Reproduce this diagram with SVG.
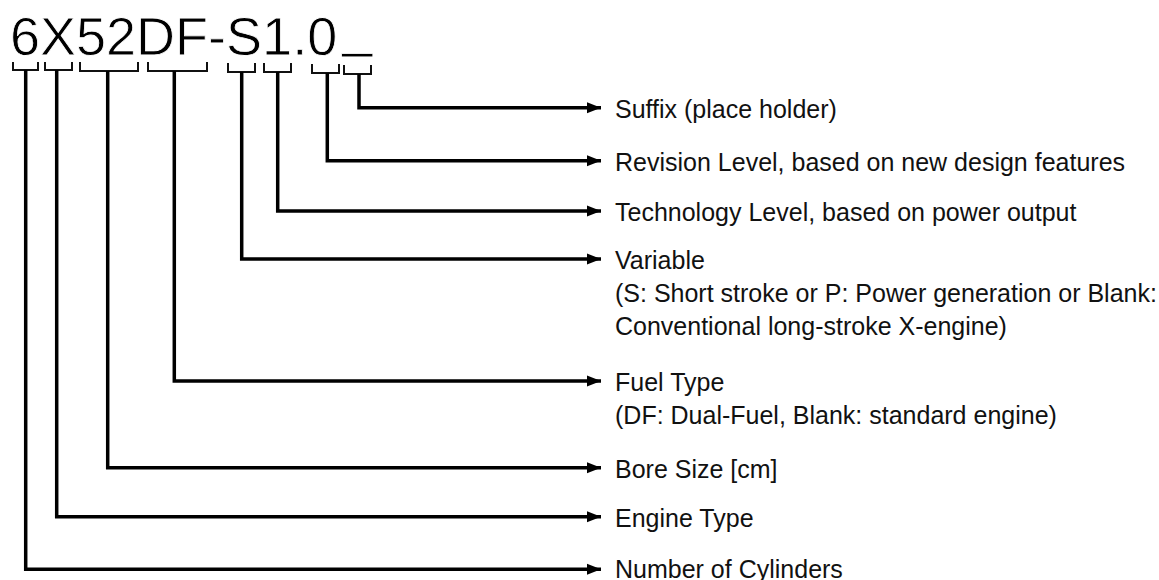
<svg xmlns="http://www.w3.org/2000/svg" width="1159" height="580" viewBox="0 0 1159 580">
<defs>
<marker id="ah" markerUnits="userSpaceOnUse" markerWidth="16" markerHeight="12" refX="14" refY="6" orient="auto">
<path d="M0,0.5 L14,6 L0,11.5 Z" fill="#000"/>
</marker>
<style>
.t{font-family:"Liberation Sans",Arial,sans-serif;font-size:25px;fill:#111}
.title{font-family:"Liberation Sans",Arial,sans-serif;font-size:54px;fill:#000;stroke:#fff;stroke-width:0.8}
.br{fill:none;stroke:#111;stroke-width:2}
.c{fill:none;stroke:#000;stroke-width:3.5;stroke-linejoin:miter}
</style>
</defs>
<rect width="1159" height="580" fill="#fff"/>
<g id="code">
<text class="title" x="10" y="55">6X52DF-S1.0<tspan dx="5" dy="-9">_</tspan></text>
</g>
<g id="brackets">
<polyline class="br" points="13,62 13,70 38,70 38,62"/>
<polyline class="br" points="45,62 45,70 72,70 72,62"/>
<polyline class="br" points="80,62 80,71 138,71 138,62"/>
<polyline class="br" points="148,62 148,71 207,71 207,62"/>
<polyline class="br" points="228,63 228,72 255,72 255,63"/>
<polyline class="br" points="264,63 264,72 291,72 291,63"/>
<polyline class="br" points="312,64 312,73 339,73 339,64"/>
<polyline class="br" points="344,65 344,74 371,74 371,65"/>
</g>
<g id="connectors">
<polyline class="c" marker-end="url(#ah)" points="359,74 359,107.7 601,107.7"/>
<polyline class="c" marker-end="url(#ah)" points="327.3,73 327.3,160.7 601,160.7"/>
<polyline class="c" marker-end="url(#ah)" points="277.7,72 277.7,211 601,211"/>
<polyline class="c" marker-end="url(#ah)" points="241.7,72 241.7,259 601,259"/>
<polyline class="c" marker-end="url(#ah)" points="174.3,71 174.3,381 601,381"/>
<polyline class="c" marker-end="url(#ah)" points="107.7,71 107.7,467.7 601,467.7"/>
<polyline class="c" marker-end="url(#ah)" points="56.7,70 56.7,516.7 601,516.7"/>
<polyline class="c" marker-end="url(#ah)" points="25.7,70 25.7,569.3 601,569.3"/>
</g>
<g id="suffix"><text class="t" x="615" y="118">Suffix (place holder)</text></g>
<g id="revision"><text class="t" x="615" y="171">Revision Level, based on new design features</text></g>
<g id="technology"><text class="t" x="615" y="221">Technology Level, based on power output</text></g>
<g id="variable">
<text class="t" x="615" y="269">Variable</text>
<text class="t" x="615" y="302">(S: Short stroke or P: Power generation or Blank:</text>
<text class="t" x="615" y="335">Conventional long-stroke X-engine)</text>
</g>
<g id="fuel">
<text class="t" x="615" y="391">Fuel Type</text>
<text class="t" x="615" y="424">(DF: Dual-Fuel, Blank: standard engine)</text>
</g>
<g id="bore"><text class="t" x="615" y="478">Bore Size [cm]</text></g>
<g id="engine"><text class="t" x="615" y="527">Engine Type</text></g>
<g id="cylinders"><text class="t" x="615" y="578">Number of Cylinders</text></g>
</svg>
